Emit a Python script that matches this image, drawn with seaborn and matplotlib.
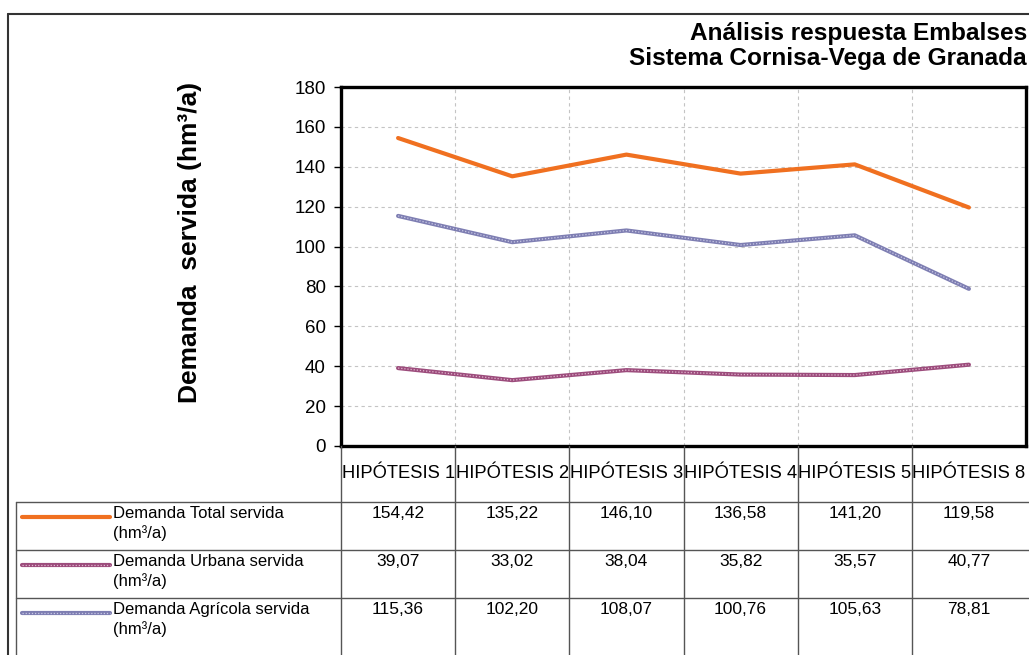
import matplotlib
matplotlib.use("Agg")
import matplotlib.pyplot as plt
import matplotlib.transforms as mtransforms
from matplotlib.lines import Line2D
import seaborn as sns
import pandas as pd

# ---------------- data ----------------
categories = ["HIPÓTESIS 1", "HIPÓTESIS 2", "HIPÓTESIS 3", "HIPÓTESIS 4", "HIPÓTESIS 5", "HIPÓTESIS 8"]
total = [154.42, 135.22, 146.10, 136.58, 141.20, 119.58]
urbana = [39.07, 33.02, 38.04, 35.82, 35.57, 40.77]
agricola = [115.36, 102.20, 108.07, 100.76, 105.63, 78.81]
series_names = ["Demanda Total servida\n(hm³/a)",
                "Demanda Urbana servida\n(hm³/a)",
                "Demanda Agrícola servida\n(hm³/a)"]
title_lines = "Análisis respuesta Embalses\nSistema Cornisa-Vega de Granada"
ylabel = "Demanda  servida (hm³/a)"
yticks = [0, 20, 40, 60, 80, 100, 120, 140, 160, 180]

colors = ["#F07020", "#9C4C7C", "#7E7EB2"]
overlay = [None, "#E2B6CF", "#C9C9E6"]

sns.set_theme(style="white")
plt.rcParams["font.family"] = ["Liberation Sans", "DejaVu Sans"]

W, H = 1029, 655
fig = plt.figure(figsize=(W / 100, H / 100), dpi=100)
fig.patch.set_facecolor("white")

def fx(px):
    return px / W

def fy(py):
    return 1 - py / H

L, R, T, B = 341, 1026, 87, 446
ax = fig.add_axes([fx(L), fy(B), fx(R) - fx(L), fy(T) - fy(B)])

xs = list(range(len(categories)))
df = pd.DataFrame({
    "x": xs * 3,
    "v": total + urbana + agricola,
    "s": [series_names[0]] * 6 + [series_names[1]] * 6 + [series_names[2]] * 6,
})
sns.lineplot(data=df, x="x", y="v", hue="s", palette=colors, ax=ax,
             linewidth=3.0, legend=False, sort=False, zorder=3)
# texture overlay for patterned series
for vals, oc in zip([urbana, agricola], overlay[1:]):
    ax.plot(xs, vals, color=oc, lw=0.9, ls=(0, (1, 1.5)), zorder=4)

ax.set_xlim(-0.5, len(categories) - 0.5)
ax.set_ylim(0, 180)
ax.set_yticks(yticks)
ax.set_yticklabels([str(t) for t in yticks], fontsize=13.5)
ax.set_xticks([])
ax.set_xlabel("")
ax.set_ylabel("")
ax.tick_params(axis="y", direction="out", length=5, width=1, color="black",
               left=True, pad=6, labelcolor="black")

# grid
for t in yticks[1:-1]:
    ax.axhline(t, color="#C4C4C4", lw=0.8, ls=(0, (3, 3)), zorder=1)
for k in range(1, len(categories)):
    ax.axvline(k - 0.5, color="#C4C4C4", lw=0.8, ls=(0, (3, 3)), zorder=1)

for sp in ax.spines.values():
    sp.set_visible(True)
    sp.set_color("black")
    sp.set_linewidth(2.4)

# ---------------- table ----------------
blend = mtransforms.blended_transform_factory(ax.transData, fig.transFigure)
grey = "#555555"
row_lines = [502, 550, 598]
for k in range(len(categories)):
    fig.add_artist(Line2D([fx(L + k * (R - L) / 6)] * 2, [fy(B), 0],
                          transform=fig.transFigure, color=grey, lw=1.0))
fig.add_artist(Line2D([fx(16)] * 2, [fy(row_lines[0]), 0],
                      transform=fig.transFigure, color=grey, lw=1.0))
for ry in row_lines:
    fig.add_artist(Line2D([fx(16), 1], [fy(ry)] * 2,
                          transform=fig.transFigure, color=grey, lw=1.0))

for i, c in enumerate(categories):
    ax.text(i, fy(473), c, transform=blend, ha="center", va="center",
            fontsize=13.2, color="black", clip_on=False)

for r, (vals, name) in enumerate(zip([total, urbana, agricola], series_names)):
    top = row_lines[r]
    for i, v in enumerate(vals):
        ax.text(i, fy(top + 12), f"{v:.2f}".replace(".", ","), transform=blend,
                ha="center", va="center", fontsize=12.5, color="black", clip_on=False)
    fig.text(fx(113), fy(top + 4), name, ha="left", va="top", fontsize=12,
             linespacing=1.3, color="black")
    fig.add_artist(Line2D([fx(22), fx(110)], [fy(top + 15)] * 2,
                          transform=fig.transFigure, color=colors[r], lw=3.0))
    if overlay[r]:
        fig.add_artist(Line2D([fx(22), fx(110)], [fy(top + 15)] * 2,
                              transform=fig.transFigure, color=overlay[r],
                              lw=0.9, ls=(0, (1, 1.5))))

# ---------------- titles / frame ----------------
fig.text(fx(1027), fy(22), title_lines, ha="right", va="top", fontsize=17.6,
         fontweight="bold", linespacing=1.1, color="black")
fig.text(fx(190), fy(242), ylabel, rotation=90, ha="center", va="center",
         fontsize=19, fontweight="bold", color="black")

fig.add_artist(Line2D([fx(8), fx(8)], [fy(14), 0], transform=fig.transFigure,
                      color="#333333", lw=1.5))
fig.add_artist(Line2D([fx(8), 1], [fy(14), fy(14)], transform=fig.transFigure,
                      color="#333333", lw=1.5))

fig.savefig("out.png", dpi=100)
